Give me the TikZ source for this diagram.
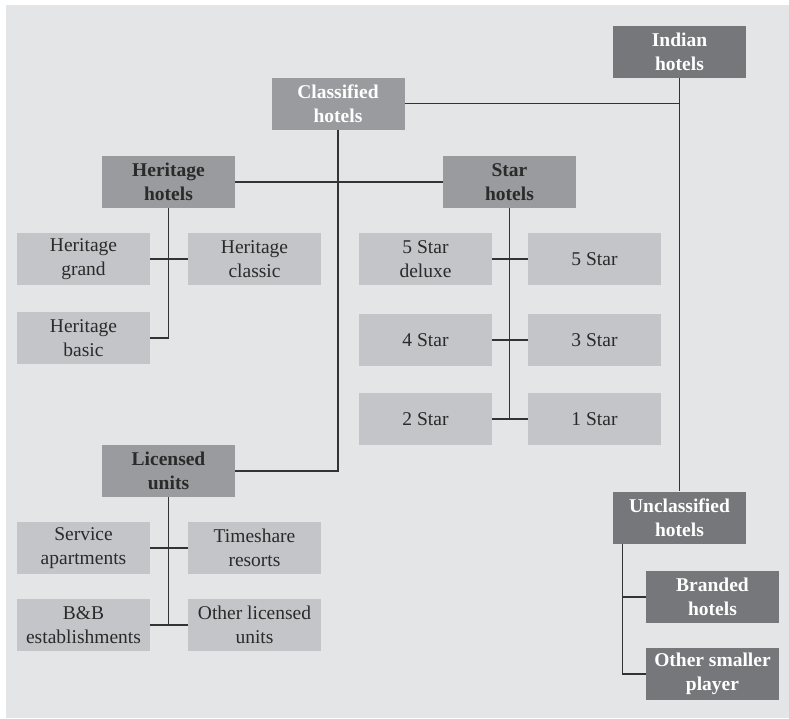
\documentclass[tikz,border=0pt]{standalone}
\usepackage{fontspec}
\setmainfont{Liberation Serif}
\definecolor{bgc}{HTML}{E4E5E7}
\definecolor{darkc}{HTML}{76777B}
\definecolor{midc}{HTML}{9A9B9E}
\definecolor{lightc}{HTML}{C4C5C8}
\definecolor{linec}{HTML}{333333}
\definecolor{txtc}{HTML}{2A2A2A}
\begin{document}
\begin{tikzpicture}[x=1pt,y=-1pt,
  box/.style={rectangle, inner sep=0pt, minimum width=133pt, minimum height=52pt, align=center,
    font=\fontsize{19.5}{24}\selectfont},
  darkbox/.style={box, fill=darkc, text=white, font=\fontsize{19.5}{24}\selectfont\bfseries},
  midwhite/.style={box, fill=midc, text=white, font=\fontsize{19.5}{24}\selectfont\bfseries},
  midblack/.style={box, fill=midc, text=txtc, font=\fontsize{19.5}{24}\selectfont\bfseries},
  lightbox/.style={box, fill=lightc, text=txtc},
  conn/.style={draw=linec, line width=1.3pt}]
\useasboundingbox (0,0) rectangle (789,718);
\fill[white] (0,0) rectangle (789,718);
\fill[bgc] (6,5) rectangle (789,718);

\node[darkbox] (ind) at (679.5,52) {Indian\\hotels};
\node[midwhite] (cls) at (338,103.5) {Classified\\hotels};
\node[midblack] (her) at (168.5,182) {Heritage\\hotels};
\node[midblack] (star) at (509.5,182) {Star\\hotels};
\node[lightbox] (hg) at (83.5,259) {Heritage\\grand};
\node[lightbox] (hc) at (254.5,259) {Heritage\\classic};
\node[lightbox] (hb) at (83.5,338) {Heritage\\basic};
\node[lightbox] (s5d) at (425.5,259) {5 Star\\deluxe};
\node[lightbox] (s5) at (594.5,259) {5 Star};
\node[lightbox] (s4) at (425.5,340) {4 Star};
\node[lightbox] (s3) at (594.5,340) {3 Star};
\node[lightbox] (s2) at (425.5,419) {2 Star};
\node[lightbox] (s1) at (594.5,419) {1 Star};
\node[midblack] (lic) at (168.5,471) {Licensed\\units};
\node[lightbox] (sa) at (83.5,548) {Service\\apartments};
\node[lightbox] (ts) at (254.5,548) {Timeshare\\resorts};
\node[lightbox] (bb) at (83.5,625) {B\&B\\establishments};
\node[lightbox] (ol) at (254.5,625) {Other licensed\\units};
\node[darkbox] (unc) at (679.5,517.5) {Unclassified\\hotels};
\node[darkbox] (br) at (712.5,597) {Branded\\hotels};
\node[darkbox] (osp) at (712.5,674) {Other smaller\\player};

\draw[conn] (ind.south) -- (unc.north);
\draw[conn] (cls.east) -- (cls.east -| ind.south);
\draw[conn] (cls.south) -- (cls.south |- lic.east) -- (lic.east);
\draw[conn] (her.east) -- (star.west);
\draw[conn] (her.south) -- (her.south |- hb.east) -- (hb.east);
\draw[conn] (hg.east) -- (hc.west);
\draw[conn] (star.south) -- (star.south |- s2.east);
\draw[conn] (s5d.east) -- (s5.west);
\draw[conn] (s4.east) -- (s3.west);
\draw[conn] (s2.east) -- (s1.west);
\draw[conn] (lic.south) -- (lic.south |- bb.east);
\draw[conn] (sa.east) -- (ts.west);
\draw[conn] (bb.east) -- (ol.west);
\coordinate (u0) at ([xshift=10pt]unc.south west);
\draw[conn] (u0) -- (u0 |- osp.west) -- (osp.west);
\draw[conn] (u0 |- br.west) -- (br.west);
\end{tikzpicture}
\end{document}
